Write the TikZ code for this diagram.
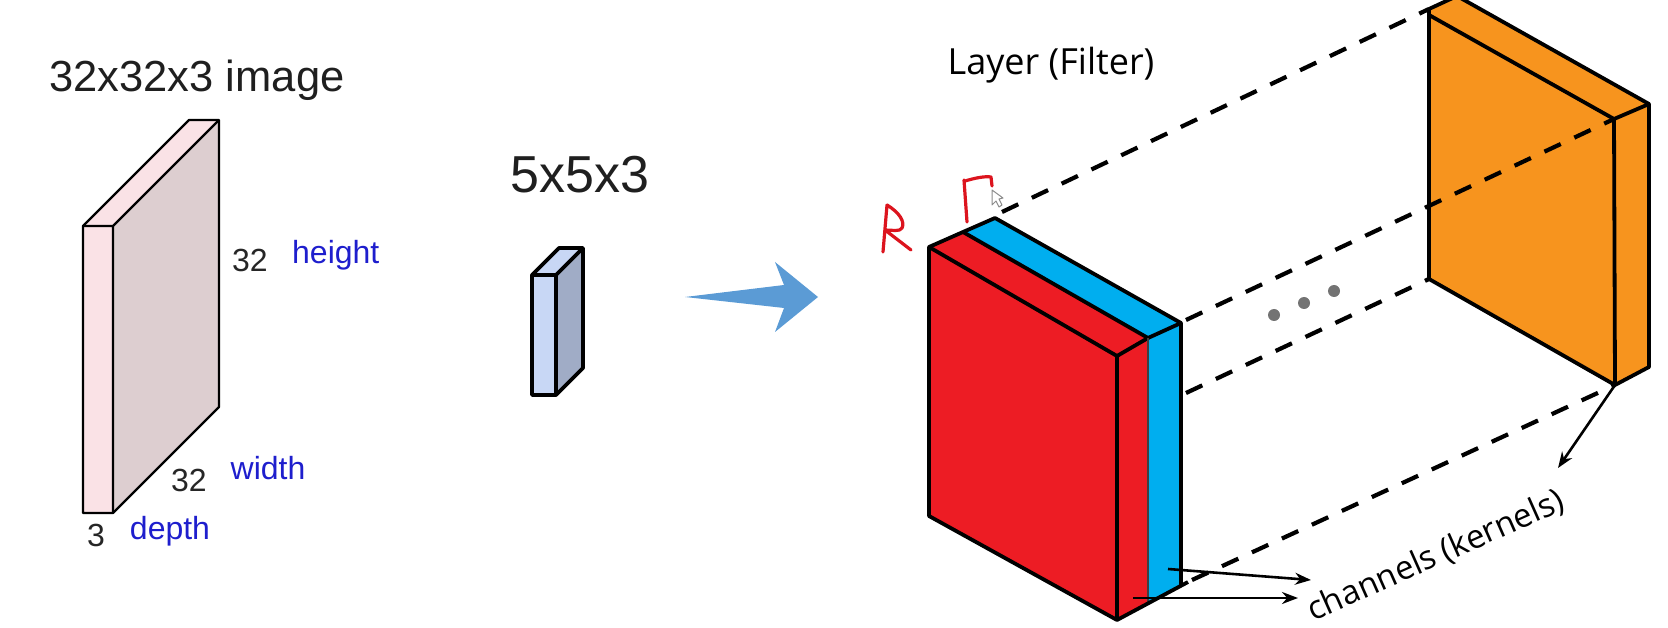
\documentclass[tikz,border=0pt]{standalone}
\usepackage{fontspec}
\setmainfont{Liberation Sans}
\newfontfamily\labelfont{Open Sans}
\usepackage{xcolor}
\definecolor{chanred}{RGB}{237, 28, 36}
\definecolor{chanblue}{RGB}{0, 174, 239}
\definecolor{filterorange}{RGB}{247, 148, 30}
\definecolor{imgfront}{RGB}{250, 226, 230}
\definecolor{imgside}{RGB}{221, 206, 208}
\definecolor{patchfront}{RGB}{200, 215, 245}
\definecolor{patchside}{RGB}{160, 172, 198}
\definecolor{arrowblue}{RGB}{91, 155, 213}
\definecolor{dimblue}{RGB}{30, 30, 205}
\definecolor{inkred}{RGB}{220, 20, 30}
\usetikzlibrary{positioning, arrows.meta}

\begin{document}
\begin{tikzpicture}[
  x=1pt, y=-1pt,
  thinface/.style={draw=black, line width=2.4pt, line join=round},
  patchface/.style={draw=black, line width=3.8pt, line join=round},
  slab/.style={draw=black, line width=3.8pt, line join=round},
  projline/.style={draw=black, line width=4.2pt, dash pattern=on 18pt off 15pt},
  pointer/.style={-{Stealth[length=16pt, width=12pt]}, draw=black, line width=2.6pt},
  dimlabel/.style={font=\fontsize{32}{32}\selectfont, text=black!85, inner sep=0pt},
  dimname/.style={font=\fontsize{32}{32}\selectfont, text=dimblue, inner sep=0pt},
  handink/.style={draw=inkred, line width=3.2pt, line join=round, line cap=round},
  moredots/.style={circle, fill=black!55, minimum size=12pt, inner sep=0pt}
]
  \useasboundingbox (0,0) rectangle (1668,628);

  % Image block
  \coordinate (imgfa) at (83,226);
  \coordinate (imgfb) at (113,226);
  \coordinate (imgfc) at (113,513);
  \coordinate (imgfd) at (83,513);
  \coordinate (imgba) at (189,120);
  \coordinate (imgbb) at (219,120);
  \coordinate (imgbc) at (219,407);
  \fill[imgfront] (imgfa) -- (imgba) -- (imgbb) -- (imgfb) -- cycle;
  \fill[imgfront] (imgfa) -- (imgfb) -- (imgfc) -- (imgfd) -- cycle;
  \fill[imgside] (imgfb) -- (imgbb) -- (imgbc) -- (imgfc) -- cycle;
  \draw[thinface] (imgfa) -- (imgba) -- (imgbb) -- (imgbc) -- (imgfc) -- (imgfd) -- cycle;
  \draw[thinface] (imgfa) -- (imgfb) -- (imgbb) (imgfb) -- (imgfc);

  % Patch block
  \coordinate (patfa) at (532,275);
  \coordinate (patfb) at (556,275);
  \coordinate (patfc) at (556,395);
  \coordinate (patfd) at (532,395);
  \coordinate (patba) at (559,248);
  \coordinate (patbb) at (583,248);
  \coordinate (patbc) at (583,368);
  \fill[patchfront] (patfa) -- (patba) -- (patbb) -- (patfb) -- cycle;
  \fill[patchfront] (patfa) -- (patfb) -- (patfc) -- (patfd) -- cycle;
  \fill[patchside] (patfb) -- (patbb) -- (patbc) -- (patfc) -- cycle;
  \draw[patchface] (patfa) -- (patba) -- (patbb) -- (patbc) -- (patfc) -- (patfd) -- cycle;
  \draw[patchface] (patfa) -- (patfb) -- (patbb) (patfb) -- (patfc);

  % Big arrow
  \fill[arrowblue] (685,297) -- (784,285) -- (775,262) -- (818,297) -- (775,332) -- (784,308) -- cycle;

  % Red and blue channels
  \coordinate (redfa) at (929,247);
  \coordinate (redba) at (963,232);
  \coordinate (bluba) at (995,218);
  \coordinate (redfb) at (1117,356);
  \coordinate (redbb) at (1148,338);
  \coordinate (blubb) at (1181,323);
  \coordinate (redfc) at (1117,620);
  \coordinate (redfd) at (929,516);
  \coordinate (redbc) at (1148,603);
  \coordinate (blubc) at (1181,585);
  \coordinate (botend) at (1188,582);
  \fill[chanblue] (redba) -- (bluba) -- (blubb) -- (blubc) -- (redbc) -- (redbb) -- cycle;
  \fill[chanred] (redfa) -- (redba) -- (redbb) -- (redbc) -- (redfc) -- (redfd) -- cycle;
  \draw[slab] (redfa) -- (redfb) -- (redfc) -- (redfd) -- cycle;
  \draw[slab] (redfa) -- (redba) -- (bluba) -- (blubb) -- (blubc);
  \draw[slab] (redba) -- (redbb) -- (redfb);
  \draw[slab] (redbb) -- (blubb);
  \draw[line width=2pt, draw=black!75] (redbb) -- (redbc);
  \draw[slab] (redfc) -- (botend);

  % Orange filter
  \coordinate (orgfa) at (1429,15);
  \coordinate (orgta) at (1429,9);
  \coordinate (orgba) at (1457,-4);
  \coordinate (orgfb) at (1614,119);
  \coordinate (orgbb) at (1649,104);
  \coordinate (orgfc) at (1615,385);
  \coordinate (orgfd) at (1429,279);
  \coordinate (orgbc) at (1649,367);
  \fill[filterorange] (orgta) -- (orgba) -- (orgbb) -- (orgbc) -- (orgfc) -- (orgfd) -- cycle;
  \draw[slab] (orgfd) -- (orgta) -- (orgba) -- (orgbb) -- (orgbc) -- (orgfc) -- cycle;
  \draw[slab] (orgfa) -- (orgfb) -- (orgbb);
  \draw[slab] (orgfb) -- (orgfc);

  % Dashed lines
  \coordinate (dasha) at (1002,212);
  \coordinate (dashb) at (1186,320);
  \coordinate (dashc) at (1186,393);
  \coordinate (dashd) at (1192,580);
  \draw[projline] (dasha) -- (orgta);
  \draw[projline] (dashb) -- (orgfb);
  \draw[projline] (dashc) -- (orgfd);
  \draw[projline] (dashd) -- (orgfc);

  \node[moredots] (dota) at (1274,315) {};
  \node[moredots] (dotb) at (1304,303) {};
  \node[moredots] (dotc) at (1334,291) {};

  % Hand marks
  \draw[handink] (887,205) -- (883,252) (887,205) .. controls (900,213) and (905,222) .. (902,228) .. controls (900,232) and (892,230) .. (885,230) -- (911,250);
  \draw[handink] (964,180) -- (967,222) (965,181) .. controls (975,178) and (985,176) .. (991,177) -- (992,186);
  \draw[draw=black!45, fill=white, line width=1pt, line join=round] (992,190) -- (992,205) -- (996,201) -- (999,207) -- (1002,205) -- (999,199) -- (1003,198) -- cycle;

  % Labels
  \node[font=\fontsize{43.5}{44}\selectfont, text=black!88, inner sep=0pt] (imgtitle) at (197,80) {32x32x3 image};
  \node[font=\fontsize{52}{52}\selectfont, text=black!88, inner sep=0pt] (pattitle) at (580,175) {5x5x3};
  \node[font=\labelfont\fontsize{36}{36}\selectfont, inner sep=0pt] (layertitle) at (1051,65) {Layer (Filter)};
  \node[dimlabel] (heightnum) at (250,260) {32};
  \node[dimname, right=24pt of heightnum, yshift=5pt] (heightname) {height};
  \node[dimname] (widthname) at (268,468) {width};
  \node[dimlabel] (widthnum) at (189,480) {32};
  \node[dimlabel] (depthnum) at (96,535) {3};
  \node[dimname] (depthname) at (170,531) {depth};
  \node[font=\labelfont\fontsize{33}{33}\selectfont, rotate=24, inner sep=0pt] (chanlabel) at (1436,556) {channels (kernels)};

  % Arrows
  \coordinate (blutail) at (1168,569);
  \coordinate (bluhead) at (1311,580);
  \coordinate (redtail) at (1133,598);
  \coordinate (redhead) at (1298,598);
  \coordinate (kernhead) at (1558,468);
  \draw[pointer] (blutail) -- (bluhead);
  \draw[pointer] (redtail) -- (redhead);
  \draw[pointer] (orgfc) -- (kernhead);
\end{tikzpicture}
\end{document}
